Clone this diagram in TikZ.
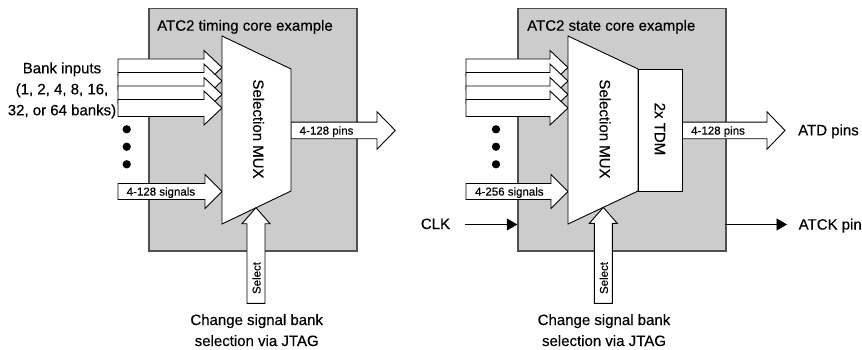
\documentclass[tikz,border=0pt]{standalone}
\usepackage{fontspec}
\setmainfont{Liberation Sans}[FakeBold=0.35]
\usetikzlibrary{arrows.meta}
\definecolor{boxgray}{RGB}{204,204,204}
\definecolor{boxline}{RGB}{80,80,80}
% right-pointing block arrow: x0, xtip, yc, shaft half, head half, head length
\newcommand\rblock[6]{\draw[blockarrow] (#1,#3-#4) -- (#2-#6,#3-#4) -- (#2-#6,#3-#5) -- (#2,#3) -- (#2-#6,#3+#5) -- (#2-#6,#3+#4) -- (#1,#3+#4) -- cycle;}
% up-pointing block arrow: xc, ybottom, ytip, shaft half, head half, head length
\newcommand\ublock[6]{\draw[blockarrow] (#1-#4,#2) -- (#1-#4,#3+#6) -- (#1-#5,#3+#6) -- (#1,#3) -- (#1+#5,#3+#6) -- (#1+#4,#3+#6) -- (#1+#4,#2) -- cycle;}
\tikzset{
  big/.style={font=\fontsize{15}{21}\selectfont, inner sep=0pt},
  small/.style={font=\fontsize{11.5}{13}\selectfont, inner sep=0pt},
  graybox/.style={fill=boxgray, draw=boxline, line width=1.5pt, inner sep=0pt,
    minimum width=208pt, minimum height=242pt, anchor=north west},
  blockarrow/.style={fill=white, draw=black, line width=0.9pt, line join=miter},
  muxshape/.style={fill=white, draw=black, line width=0.9pt, line join=miter},
  bankdot/.style={circle, fill=black, inner sep=0pt, minimum size=8.3pt},
  sigline/.style={line width=0.8pt, -{Triangle[length=10.5pt,width=12pt]}}
}
\begin{document}
\begin{tikzpicture}[x=1pt,y=-1pt]
\useasboundingbox (0,0) rectangle (862,350);

% ---------------- left panel ----------------
\node[graybox] (boxL) at (148,8) {};
\node[big, anchor=base west] (titleL) at (157,30.7) {ATC2 timing core example};

\node[big, align=center, anchor=base] (bankin) at (62,115.3) {Bank inputs\\(1, 2, 4, 8, 16,\\32, or 64 banks)};

\foreach \yy in {67.5,81,94.5,108} {\rblock{118}{222}{\yy}{8.5}{17}{18}}
\node[bankdot] (dL1) at (126.7,129.3) {};
\node[bankdot] (dL2) at (126.7,146.7) {};
\node[bankdot] (dL3) at (126.7,164.3) {};

\rblock{118}{222}{191.5}{8}{17}{17}
\node[small, anchor=base west] (sigL) at (126.5,195.6) {4-128 signals};

\rblock{291}{395.3}{130.5}{8.3}{18.7}{18.3}
\node[small, anchor=base west] (pinsL) at (299.5,134.6) {4-128 pins};

\coordinate (mLa) at (222,36);
\coordinate (mLb) at (291,69);
\coordinate (mLc) at (291,191);
\coordinate (mLd) at (222,224);
\draw[muxshape] (mLa) -- (mLb) -- (mLc) -- (mLd) -- cycle;
\node[big, rotate=-90] (muxL) at (258.5,129) {Selection MUX};

\ublock{256}{303.3}{207.7}{9}{14}{16}
\node[small, rotate=90] (selL) at (256.5,278) {Select};

\node[big, align=center, anchor=base] (jtagL) at (256.7,346) {Change signal bank\\selection via JTAG};

% ---------------- right panel ----------------
\node[graybox] (boxR) at (517,8) {};
\node[big, anchor=base west] (titleR) at (527,30.7) {ATC2 state core example};

\foreach \yy in {67.5,81,94.5,108} {\rblock{466}{568}{\yy}{8.5}{17}{18}}
\node[bankdot] (dR1) at (496,129.3) {};
\node[bankdot] (dR2) at (496,146.7) {};
\node[bankdot] (dR3) at (496,164.3) {};

\rblock{466}{568}{191.5}{8}{17}{17}
\node[small, anchor=base west] (sigR) at (475,195.6) {4-256 signals};

\rblock{681.7}{785}{130.5}{8.3}{18.7}{18}
\node[small, anchor=base west] (pinsR) at (691,134.6) {4-128 pins};
\node[big, anchor=base west] (atd) at (798,135.3) {ATD pins};

\coordinate (mRa) at (568,36);
\coordinate (mRb) at (638,69);
\coordinate (mRc) at (638,191);
\coordinate (mRd) at (568,224);
\draw[muxshape] (mRa) -- (mRb) -- (mRc) -- (mRd) -- cycle;
\node[big, rotate=-90] (muxR) at (605,129) {Selection MUX};

\node[muxshape, anchor=north west, inner sep=0pt, minimum width=43.7pt, minimum height=122pt] (tdm) at (638,69) {};
\node[big, rotate=-90] (tdmtxt) at (660,129) {2x TDM};

\ublock{603.3}{303.3}{207.4}{9}{14}{16}
\node[small, rotate=90] (selR) at (603.8,278) {Select};

\node[big, align=center, anchor=base] (jtagR) at (604,346) {Change signal bank\\selection via JTAG};

% clock
\node[big, anchor=base] (clk) at (435.5,229) {CLK};
\coordinate (clkstart) at (465,224.5);
\coordinate (clkend) at (517.3,224.5);
\draw[sigline] (clkstart) -- (clkend);

\coordinate (atckstart) at (725,224.5);
\coordinate (atckend) at (787,224.5);
\draw[sigline] (atckstart) -- (atckend);
\node[big, anchor=base west] (atck) at (798.5,229.6) {ATCK pin};
\end{tikzpicture}
\end{document}
